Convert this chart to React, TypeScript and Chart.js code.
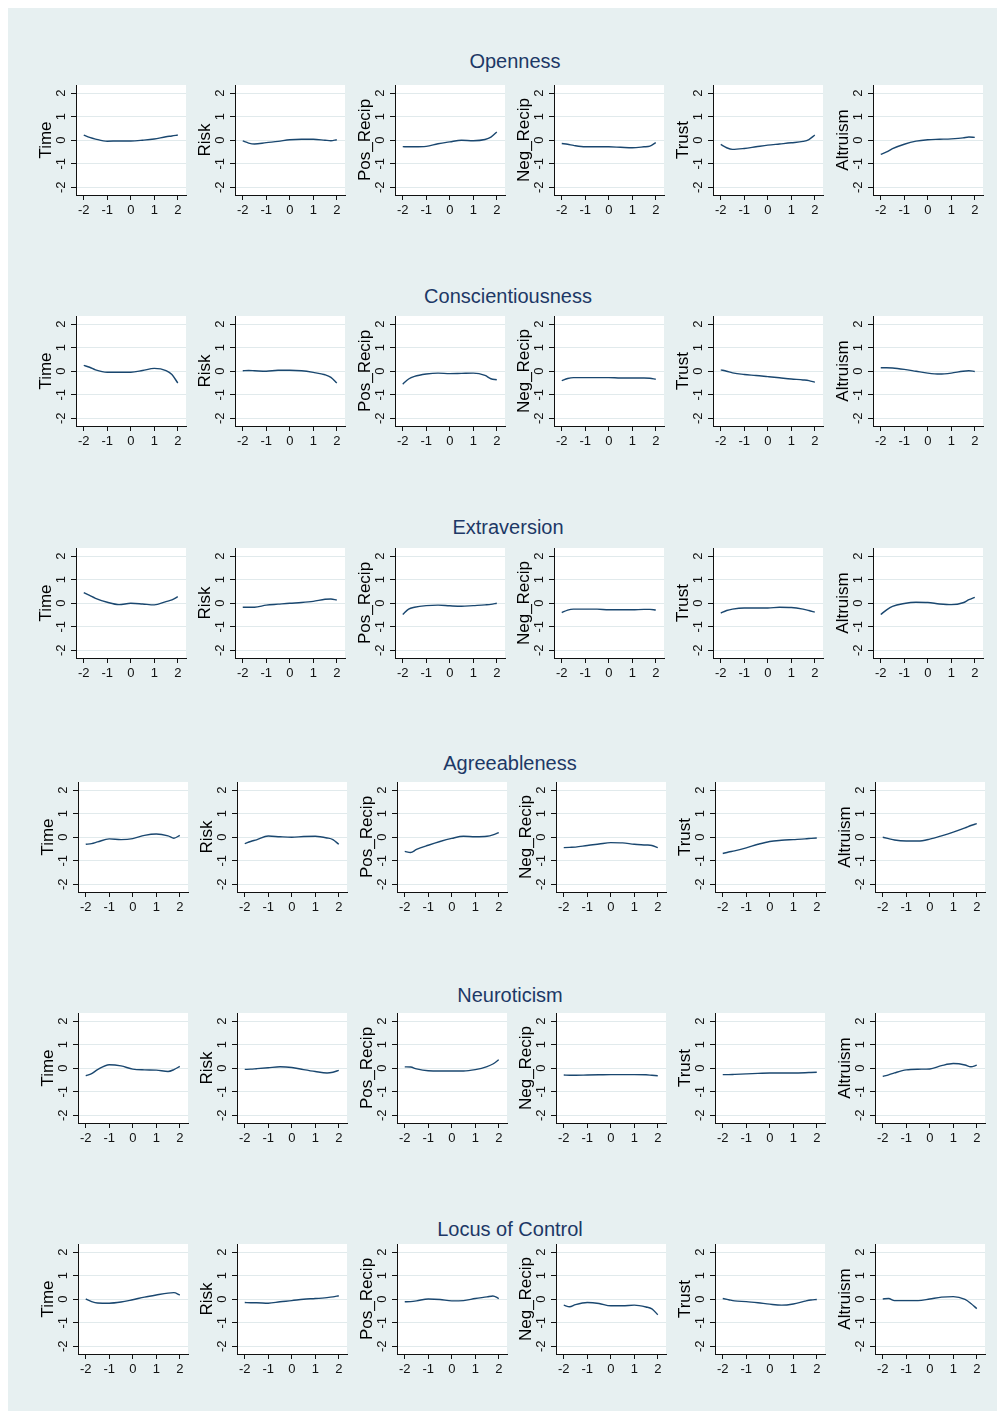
import React, { useEffect, useRef } from 'react';
import { Chart, registerables } from 'chart.js';
Chart.register(...registerables);

// ---------- data ----------
const X_VALUES = [-2, -1.75, -1.5, -1, -0.5, 0, 0.5, 1, 1.5, 1.75, 2];
const X_TICKS = [-2, -1, 0, 1, 2];
const Y_TICKS = [-2, -1, 0, 1, 2];
const TICK_LABELS = ['-2', '-1', '0', '1', '2'];
const OUTCOMES = ['Time', 'Risk', 'Pos_Recip', 'Neg_Recip', 'Trust', 'Altruism'];
const TRAITS = ['Openness', 'Conscientiousness', 'Extraversion', 'Agreeableness', 'Neuroticism', 'Locus of Control'];

const openness = [
  [0.22, 0.12, 0.05, -0.04, -0.03, -0.03, 0.0, 0.05, 0.15, 0.18, 0.22],
  [-0.03, -0.12, -0.16, -0.1, -0.05, 0.02, 0.04, 0.04, 0.0, -0.02, 0.02],
  [-0.27, -0.28, -0.28, -0.26, -0.15, -0.07, 0.0, -0.02, 0.03, 0.13, 0.35],
  [-0.14, -0.17, -0.22, -0.28, -0.28, -0.28, -0.3, -0.32, -0.28, -0.25, -0.1],
  [-0.18, -0.32, -0.39, -0.35, -0.28, -0.21, -0.16, -0.11, -0.05, 0.03, 0.22],
  [-0.6, -0.5, -0.36, -0.17, -0.04, 0.02, 0.04, 0.06, 0.1, 0.14, 0.12],
];
const conscientiousness = [
  [0.25, 0.17, 0.06, -0.04, -0.04, -0.04, 0.03, 0.12, 0.03, -0.14, -0.5],
  [0.02, 0.03, 0.02, 0.0, 0.04, 0.04, 0.02, -0.05, -0.15, -0.26, -0.5],
  [-0.55, -0.33, -0.22, -0.12, -0.08, -0.1, -0.09, -0.08, -0.18, -0.32, -0.36],
  [-0.4, -0.31, -0.27, -0.27, -0.27, -0.27, -0.29, -0.29, -0.29, -0.3, -0.34],
  [0.06, 0.0, -0.07, -0.14, -0.18, -0.23, -0.28, -0.33, -0.37, -0.4, -0.47],
  [0.15, 0.15, 0.14, 0.08, 0.0, -0.08, -0.12, -0.08, 0.0, 0.02, -0.01],
];
const extraversion = [
  [0.45, 0.33, 0.21, 0.04, -0.06, 0.0, -0.03, -0.07, 0.07, 0.14, 0.28],
  [-0.17, -0.17, -0.17, -0.08, -0.04, 0.0, 0.03, 0.08, 0.17, 0.18, 0.14],
  [-0.48, -0.25, -0.17, -0.1, -0.08, -0.11, -0.13, -0.1, -0.07, -0.05, 0.0],
  [-0.4, -0.29, -0.25, -0.25, -0.25, -0.28, -0.28, -0.28, -0.26, -0.26, -0.29],
  [-0.42, -0.31, -0.25, -0.2, -0.2, -0.2, -0.17, -0.18, -0.25, -0.31, -0.38],
  [-0.48, -0.28, -0.13, -0.01, 0.04, 0.03, -0.03, -0.06, 0.02, 0.15, 0.25],
];
const agreeableness = [
  [-0.3, -0.27, -0.2, -0.07, -0.1, -0.06, 0.08, 0.14, 0.06, -0.04, 0.08],
  [-0.27, -0.18, -0.11, 0.05, 0.02, 0.0, 0.03, 0.04, -0.03, -0.1, -0.3],
  [-0.6, -0.65, -0.52, -0.34, -0.18, -0.05, 0.04, 0.02, 0.04, 0.1, 0.2],
  [-0.44, -0.43, -0.42, -0.35, -0.29, -0.23, -0.24, -0.3, -0.33, -0.35, -0.44],
  [-0.69, -0.63, -0.58, -0.45, -0.3, -0.18, -0.13, -0.1, -0.07, -0.05, -0.03],
  [0.0, -0.06, -0.12, -0.16, -0.16, -0.08, 0.06, 0.22, 0.4, 0.5, 0.58],
];
const neuroticism = [
  [-0.32, -0.23, -0.06, 0.15, 0.1, -0.04, -0.07, -0.08, -0.14, -0.06, 0.08],
  [-0.05, -0.04, -0.02, 0.02, 0.06, 0.03, -0.06, -0.14, -0.2, -0.17, -0.09],
  [0.06, 0.05, -0.03, -0.11, -0.12, -0.12, -0.12, -0.06, 0.07, 0.18, 0.36],
  [-0.29, -0.3, -0.3, -0.29, -0.28, -0.27, -0.27, -0.27, -0.28, -0.3, -0.32],
  [-0.27, -0.27, -0.26, -0.24, -0.22, -0.2, -0.2, -0.2, -0.19, -0.18, -0.17],
  [-0.35, -0.28, -0.2, -0.07, -0.04, -0.03, 0.11, 0.2, 0.14, 0.06, 0.13],
];
const locusOfControl = [
  [0.01, -0.1, -0.16, -0.17, -0.12, -0.02, 0.09, 0.18, 0.26, 0.28, 0.18],
  [-0.14, -0.15, -0.15, -0.17, -0.11, -0.06, 0.0, 0.03, 0.07, 0.1, 0.15],
  [-0.11, -0.1, -0.07, 0.01, -0.01, -0.07, -0.06, 0.03, 0.1, 0.14, 0.03],
  [-0.25, -0.32, -0.23, -0.14, -0.18, -0.28, -0.28, -0.25, -0.33, -0.41, -0.66],
  [0.03, -0.02, -0.07, -0.1, -0.15, -0.21, -0.25, -0.2, -0.08, -0.03, -0.01],
  [0.01, 0.03, -0.06, -0.06, -0.06, 0.01, 0.09, 0.11, -0.01, -0.18, -0.4],
];
const TRAIT_SERIES = [openness, conscientiousness, extraversion, agreeableness, neuroticism, locusOfControl];

// ---------- style / layout ----------
const FONT = '"Liberation Sans", Arial, Helvetica, sans-serif';
const BG = '#e7f0f1';
const GRID = '#e1eaec';
const LINE = '#1a476f';
const AXIS = '#111111';
const TITLE_COLOR = '#1d3866';
const AX_MIN = -2.33;
const AX_MAX = 2.35;

const ROW_TOP = [85, 316, 548, 782, 1013, 1244];
const ROW_X0 = [76, 76, 76, 78, 78, 78];
const COL_STEP = 159.3;
const PLOT_W = 110;
const PLOT_H = 110;
const TITLE_Y = [61, 296, 527, 763, 995, 1229];
const TITLE_X = [515, 508, 508, 510, 510, 510];

const Y_AREA = 62;
const PAD_T = 8;
const PAD_R = 6;
const X_AREA = 30;
const CW = Y_AREA + PLOT_W + PAD_R;
const CH = PAD_T + PLOT_H + X_AREA;

const plotBg = {
  id: 'plotBg',
  beforeDraw(chart: any) {
    const { ctx, chartArea: a } = chart;
    ctx.save();
    ctx.fillStyle = '#ffffff';
    ctx.fillRect(a.left, a.top, a.right - a.left, a.bottom - a.top);
    ctx.restore();
  },
};

function Panel({ ys, label, left, top }: { ys: number[]; label: string; left: number; top: number }) {
  const ref = useRef<HTMLCanvasElement | null>(null);
  useEffect(() => {
    const chart = new Chart(ref.current as HTMLCanvasElement, {
      type: 'line',
      data: {
        datasets: [
          {
            data: X_VALUES.map((x, i) => ({ x, y: ys[i] })),
            borderColor: LINE,
            borderWidth: 1.4,
            pointRadius: 0,
            cubicInterpolationMode: 'monotone',
            fill: false,
          },
        ],
      },
      options: {
        animation: false,
        responsive: false,
        events: [],
        layout: { padding: { top: PAD_T, right: PAD_R, left: 0, bottom: 0 } },
        plugins: { legend: { display: false }, tooltip: { enabled: false } },
        scales: {
          x: {
            type: 'linear',
            min: AX_MIN,
            max: AX_MAX,
            afterBuildTicks: (s: any) => {
              s.ticks = X_TICKS.map((v) => ({ value: v }));
            },
            afterFit: (s: any) => {
              s.height = X_AREA;
              s.paddingLeft = 0;
              s.paddingRight = 0;
            },
            ticks: {
              autoSkip: false,
              minRotation: 0,
              maxRotation: 0,
              padding: 3,
              color: AXIS,
              font: { family: FONT, size: 13 },
              callback: (_v: any, i: number) => TICK_LABELS[i],
            },
            grid: { drawOnChartArea: false, tickLength: 5, tickColor: AXIS, tickWidth: 1 },
            border: { display: true, color: AXIS, width: 1 },
          },
          y: {
            type: 'linear',
            min: AX_MIN,
            max: AX_MAX,
            afterBuildTicks: (s: any) => {
              s.ticks = Y_TICKS.map((v) => ({ value: v }));
            },
            afterFit: (s: any) => {
              s.width = Y_AREA;
              s.paddingTop = 0;
              s.paddingBottom = 0;
            },
            ticks: {
              autoSkip: false,
              minRotation: 90,
              maxRotation: 90,
              crossAlign: 'center',
              padding: 4,
              color: AXIS,
              font: { family: FONT, size: 13 },
              callback: (_v: any, i: number) => TICK_LABELS[i],
            },
            grid: { color: GRID, lineWidth: 1, tickLength: 5, tickColor: AXIS, tickWidth: 1 },
            border: { display: true, color: AXIS, width: 1 },
            title: {
              display: true,
              text: label,
              color: '#000000',
              font: { family: FONT, size: 17 },
              padding: { top: 22, bottom: 0 },
            },
          },
        },
      } as any,
      plugins: [plotBg],
    });
    return () => chart.destroy();
  }, [ys, label]);
  return (
    <canvas
      ref={ref}
      width={CW}
      height={CH}
      style={{ position: 'absolute', left, top, width: CW, height: CH }}
    />
  );
}

export default function App() {
  const panels: any[] = [];
  TRAITS.forEach((trait, r) => {
    OUTCOMES.forEach((outcome, c) => {
      const plotLeft = Math.round(ROW_X0[r] + c * COL_STEP);
      panels.push(
        <Panel
          key={`${r}-${c}`}
          ys={TRAIT_SERIES[r][c]}
          label={outcome}
          left={plotLeft - Y_AREA - 8}
          top={ROW_TOP[r] - PAD_T - 8}
        />
      );
    });
  });
  return (
    <div
      style={{
        position: 'fixed',
        left: 8,
        top: 8,
        width: 989,
        height: 1403,
        background: BG,
        overflow: 'hidden',
        fontFamily: FONT,
      }}
    >
      {TRAITS.map((t, r) => (
        <div
          key={t}
          style={{
            position: 'absolute',
            left: TITLE_X[r] - 8 - 200,
            width: 400,
            top: TITLE_Y[r] - 8 - 12,
            height: 24,
            lineHeight: '24px',
            textAlign: 'center',
            fontSize: 20,
            color: TITLE_COLOR,
          }}
        >
          {t}
        </div>
      ))}
      {panels}
    </div>
  );
}
